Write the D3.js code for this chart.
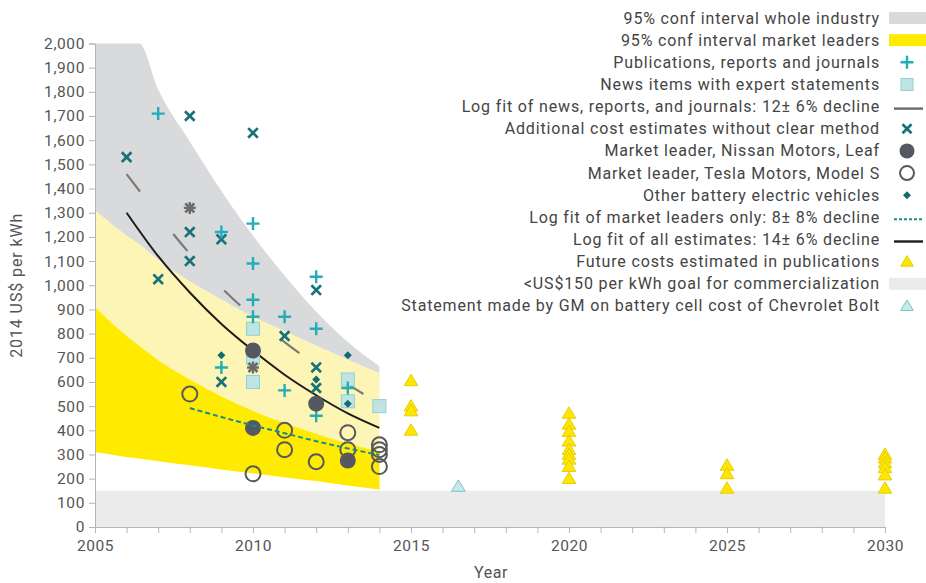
<!DOCTYPE html>
<html>
<head>
<meta charset="utf-8">
<script src="https://cdn.jsdelivr.net/npm/d3@7"></script>
<style>
  body { margin: 0; background: #fff; }
  text { font-family: Roboto, "Open Sans", sans-serif; }
  .tick text { fill: #555; font-size: 15.5px; letter-spacing: 0.6px; }
  .legend text { fill: #444; font-size: 16px; letter-spacing: 0.85px; }
</style>
</head>
<body>
<div id="chart"></div>
<script>
// battery pack cost chart

// confidence bands (year, US$/kWh)
var bandYears     = [2005, 2006, 2006.4, 2007, 2008, 2009, 2010, 2011, 2012, 2013, 2014];
var industryUpper = [2000, 2000, 2000, 1810, 1595, 1390, 1205, 1040, 890, 765, 665];
var industryLower = [1310, 1205, 1170, 1105, 1015, 940, 870, 810, 750, 692, 636];
var leadersUpper  = [910, 790, 750, 690, 610, 540, 480, 430, 385, 345, 310];
var leadersLower  = [310, 290, 283, 272, 255, 238, 222, 206, 190, 172, 155];

// fit lines
var newsFitYears  = [2006, 2007, 2008, 2009, 2010, 2011, 2012, 2013, 2013.5];
var newsFitValues = [1460, 1290, 1130, 990, 870, 765, 670, 590, 550];
var allFitYears   = [2006, 2007, 2008, 2009, 2010, 2011, 2012, 2013, 2014];
var allFitValues  = [1300, 1120, 970, 840, 730, 630, 545, 470, 410];
var leadFitYears  = [2008, 2009, 2010, 2011, 2012, 2013, 2014];
var leadFitValues = [492, 455, 420, 388, 355, 325, 298];

// point series
var pubYears   = [2007, 2009, 2009, 2010, 2010, 2010, 2010, 2011, 2011, 2012, 2012, 2012, 2013];
var pubValues  = [1710, 1220, 660, 1255, 1090, 940, 870, 870, 565, 1035, 820, 460, 575];
var newsYears  = [2010, 2010, 2010, 2013, 2013, 2014];
var newsValues = [820, 700, 600, 610, 520, 500];
var addYears   = [2006, 2007, 2008, 2008, 2008, 2009, 2009, 2010, 2011, 2012, 2012, 2012];
var addValues  = [1530, 1025, 1700, 1220, 1100, 1190, 600, 1630, 790, 980, 660, 575];
var starYears  = [2008, 2010];
var starValues = [1320, 660];
var nissanYears  = [2010, 2010, 2012, 2013];
var nissanValues = [730, 410, 510, 275];
var teslaYears  = [2008, 2010, 2011, 2011, 2012, 2013, 2013, 2014, 2014, 2014, 2014];
var teslaValues = [550, 220, 400, 320, 270, 390, 320, 340, 320, 300, 250];
var bevYears  = [2009, 2012, 2013, 2013];
var bevValues = [710, 610, 710, 510];
var futureYears  = [2015, 2015, 2015, 2015,
                    2020, 2020, 2020, 2020, 2020, 2020, 2020, 2020, 2020,
                    2025, 2025, 2025,
                    2030, 2030, 2030, 2030, 2030, 2030];
var futureValues = [605, 500, 480, 400,
                    470, 425, 395, 355, 320, 300, 280, 250, 200,
                    255, 220, 160,
                    300, 285, 265, 245, 215, 160];
var gmYears  = [2016.5];
var gmValues = [168];
var goalValue = 150;

var yTicks = d3.range(0, 2001, 100);
var xLabels = [2005, 2010, 2015, 2020, 2025, 2030];

var legendLabels = [
  "95% conf interval whole industry",
  "95% conf interval market leaders",
  "Publications, reports and journals",
  "News items with expert statements",
  "Log fit of news, reports, and journals: 12\u00b1 6% decline",
  "Additional cost estimates without clear method",
  "Market leader, Nissan Motors, Leaf",
  "Market leader, Tesla Motors, Model S",
  "Other battery electric vehicles",
  "Log fit of market leaders only: 8\u00b1 8% decline",
  "Log fit of all estimates: 14\u00b1 6% decline",
  "Future costs estimated in publications",
  "<US$150 per kWh goal for commercialization",
  "Statement made by GM on battery cell cost of Chevrolet Bolt"
];
var legendKinds = ["gray", "yellow", "plus", "square", "newsfit", "cross", "nissan",
                   "tesla", "diamond", "leadfit", "allfit", "future", "goal", "gm"];

var W = 926, H = 583;
var x = d3.scaleLinear().domain([2005, 2030]).range([95, 885]);
var y = d3.scaleLinear().domain([0, 2000]).range([527, 43.5]);

var svg = d3.select("#chart").append("svg")
  .attr("width", W).attr("height", H);

function zip(xs, ys) { return xs.map(function(d, i) { return [d, ys[i]]; }); }

// bands
var band = d3.area().curve(d3.curveMonotoneX)
  .x(function(d) { return x(d[0]); })
  .y0(function(d) { return y(d[1]); })
  .y1(function(d) { return y(d[2]); });
function bandData(lo, hi) { return bandYears.map(function(d, i) { return [d, lo[i], hi[i]]; }); }

svg.append("path").datum(bandData(industryLower, industryUpper))
  .attr("fill", "#d9dadc").attr("d", band);
svg.append("path").datum(bandData(leadersLower, industryLower))
  .attr("fill", "#fdf5b5").attr("d", band);
svg.append("path").datum(bandData(leadersLower, leadersUpper))
  .attr("fill", "#ffeb00").attr("d", band);

// goal band
svg.append("rect")
  .attr("x", x(2005)).attr("width", x(2030) - x(2005))
  .attr("y", y(goalValue)).attr("height", y(0) - y(goalValue))
  .attr("fill", "#ebebec");

// axes
svg.append("g").attr("transform", "translate(" + x(2005) + ",0)")
  .call(d3.axisLeft(y).tickValues(yTicks).tickSize(6).tickPadding(4).tickFormat(d3.format(",")));
svg.append("g").attr("transform", "translate(0," + y(0) + ")")
  .call(d3.axisBottom(x).tickValues(d3.range(2005, 2031)).tickSize(6).tickPadding(7)
    .tickFormat(function(d) { return xLabels.indexOf(d) >= 0 ? d : ""; }));
svg.selectAll(".domain, .tick line").attr("stroke", "#b5b5b5");
svg.selectAll(".tick text").attr("font-size", null);

svg.append("text")
  .attr("transform", "translate(22," + y(1000) + ") rotate(-90)")
  .attr("text-anchor", "middle").attr("fill", "#555").attr("font-size", 16)
  .attr("letter-spacing", 0.9)
  .text("2014 US$ per kWh");
svg.append("text")
  .attr("x", 491).attr("y", 578)
  .attr("text-anchor", "middle").attr("fill", "#555").attr("font-size", 16)
  .attr("letter-spacing", 0.6)
  .text("Year");

// fit lines
var line = d3.line().curve(d3.curveMonotoneX)
  .x(function(d) { return x(d[0]); })
  .y(function(d) { return y(d[1]); });

svg.append("path").datum(zip(newsFitYears, newsFitValues))
  .attr("fill", "none").attr("stroke", "#7a7a7a").attr("stroke-width", 2.2)
  .attr("stroke-dasharray", "22,54").attr("d", line);
svg.append("path").datum(zip(allFitYears, allFitValues))
  .attr("fill", "none").attr("stroke", "#1c1c1c").attr("stroke-width", 2).attr("d", line);

// markers
function plus(g, s) {
  g.append("path").attr("d", "M" + (-s) + ",0H" + s + "M0," + (-s) + "V" + s)
    .attr("stroke", "#22adb8").attr("stroke-width", 2.4).attr("fill", "none");
}
function cross(g, s, col) {
  g.append("path").attr("d", "M" + (-s) + "," + (-s) + "L" + s + "," + s + "M" + (-s) + "," + s + "L" + s + "," + (-s))
    .attr("stroke", col || "#18727a").attr("stroke-width", 2.7).attr("fill", "none");
}
function square(g, s) {
  g.append("rect").attr("x", -s).attr("y", -s).attr("width", 2 * s).attr("height", 2 * s)
    .attr("fill", "#bfe4e4").attr("stroke", "#8fd0d0").attr("stroke-width", 1);
}
function nissan(g, r) { g.append("circle").attr("r", r).attr("fill", "#555861"); }
function tesla(g, r) {
  g.append("circle").attr("r", r).attr("fill", "none").attr("stroke", "#58585a").attr("stroke-width", 2);
}
function diamond(g, s) {
  g.append("path").attr("d", "M0," + (-s) + "L" + s + ",0L0," + s + "L" + (-s) + ",0Z").attr("fill", "#0f6c70");
}
function star(g, s) {
  cross(g, s * 0.75, "#6a6a6a");
  g.append("path").attr("d", "M" + (-s) + ",0H" + s + "M0," + (-s) + "V" + s)
    .attr("stroke", "#6a6a6a").attr("stroke-width", 2.4);
}
function tri(g, s, fill, stroke) {
  g.append("path").attr("d", "M0," + (-s) + "L" + (s * 1.05) + "," + (s * 0.75) + "L" + (-s * 1.05) + "," + (s * 0.75) + "Z")
    .attr("fill", fill).attr("stroke", stroke).attr("stroke-width", 1);
}

function points(xs, ys, draw) {
  svg.append("g").selectAll("g").data(zip(xs, ys)).enter().append("g")
    .attr("transform", function(d) { return "translate(" + x(d[0]) + "," + y(d[1]) + ")"; })
    .each(function() { draw(d3.select(this)); });
}

points(newsYears, newsValues, function(g) { square(g, 6.5); });
points(starYears, starValues, function(g) { star(g, 6); });
points(addYears, addValues, function(g) { cross(g, 4.8); });
points(pubYears, pubValues, function(g) { plus(g, 6.5); });
points(bevYears, bevValues, function(g) { diamond(g, 4); });
points(nissanYears, nissanValues, function(g) { nissan(g, 8); });
points(teslaYears, teslaValues, function(g) { tesla(g, 7.5); });

svg.append("path").datum(zip(leadFitYears, leadFitValues))
  .attr("fill", "none").attr("stroke", "#1a8c8a").attr("stroke-width", 2)
  .attr("stroke-dasharray", "5,3").attr("d", line);

points(futureYears, futureValues, function(g) { tri(g, 6.5, "#ffe600", "#e6cf00"); });
points(gmYears, gmValues, function(g) { tri(g, 6.5, "#c8e9e9", "#78c3c3"); });

// legend
var legend = svg.append("g").attr("class", "legend");
var rowY = function(i) { return 18 + i * 22.15; };
legendLabels.forEach(function(label, i) {
  var yy = rowY(i);
  legend.append("text").attr("x", 880).attr("y", yy + 5.5)
    .attr("text-anchor", "end").text(label);
  var g = legend.append("g").attr("transform", "translate(907," + yy + ")");
  var k = legendKinds[i];
  if (k === "gray" || k === "yellow" || k === "goal") {
    g.append("rect").attr("x", -18).attr("y", -6).attr("width", 40).attr("height", 12)
      .attr("fill", k === "gray" ? "#d9dadc" : k === "yellow" ? "#ffeb00" : "#ebebec");
  } else if (k === "plus") plus(g, 6.5);
  else if (k === "square") square(g, 6);
  else if (k === "cross") cross(g, 4.5);
  else if (k === "nissan") nissan(g, 7.5);
  else if (k === "tesla") tesla(g, 7);
  else if (k === "diamond") diamond(g, 4);
  else if (k === "future") tri(g, 6, "#ffe600", "#e6cf00");
  else if (k === "gm") tri(g, 6, "#c8e9e9", "#78c3c3");
  else {
    var col = k === "newsfit" ? "#6a6a6a" : k === "leadfit" ? "#1a8c8a" : "#1c1c1c";
    g.append("line").attr("x1", -13).attr("x2", 16).attr("y1", 2).attr("y2", 2)
      .attr("stroke", col).attr("stroke-width", k === "leadfit" ? 2 : 2.4)
      .attr("stroke-dasharray", k === "leadfit" ? "3,2" : null);
  }
});
</script>
</body>
</html>
